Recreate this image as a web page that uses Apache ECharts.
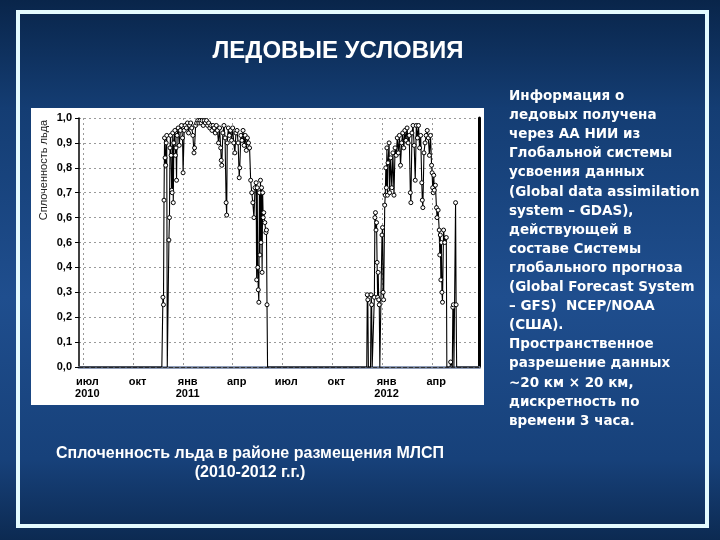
<!DOCTYPE html>
<html><head><meta charset="utf-8">
<script src="https://cdn.jsdelivr.net/npm/echarts@6/dist/echarts.min.js"></script>
<style>html,body{margin:0;padding:0;background:#0b2a52;}#c{width:720px;height:540px;}</style>
</head><body><div id="c"></div>
<script>
const titleText = 'ЛЕДОВЫЕ УСЛОВИЯ';
const yAxisTitle = 'Сплоченность льда';
const yTickLabels = ['0,0','0,1','0,2','0,3','0,4','0,6','0,6','0,7','0,8','0,9','1,0'];
const monthTicks = ['2010-07-01','2010-10-01','2011-01-01','2011-04-01','2011-07-01','2011-10-01','2012-01-01','2012-04-01'];
const monthLabels = ['июл\n2010','окт','янв\n2011','апр','июл','окт','янв\n2012','апр'];
const xRange = ['2010-06-23','2012-06-26'];

const season1Dates = ['2010-06-23','2010-08-15','2010-10-01','2010-11-22','2010-11-24','2010-11-25','2010-11-26','2010-11-27','2010-11-28','2010-11-29','2010-11-30','2010-12-01','2010-12-02','2010-12-04','2010-12-05','2010-12-06','2010-12-07','2010-12-08','2010-12-09','2010-12-10','2010-12-11','2010-12-12','2010-12-13','2010-12-14','2010-12-16','2010-12-17','2010-12-18','2010-12-19','2010-12-20','2010-12-22','2010-12-24','2010-12-26','2010-12-28','2010-12-30','2010-12-31','2011-01-02','2011-01-04','2011-01-06','2011-01-08','2011-01-10','2011-01-12','2011-01-14','2011-01-16','2011-01-18','2011-01-20','2011-01-21','2011-01-23','2011-01-25','2011-01-27','2011-01-29','2011-01-31','2011-02-02','2011-02-04','2011-02-06','2011-02-08','2011-02-10','2011-02-12','2011-02-14','2011-02-16','2011-02-18','2011-02-20','2011-02-22','2011-02-24','2011-02-26','2011-02-28','2011-03-02','2011-03-04','2011-03-06','2011-03-08','2011-03-10','2011-03-11','2011-03-12','2011-03-14','2011-03-16','2011-03-18','2011-03-20','2011-03-21','2011-03-22','2011-03-24','2011-03-26','2011-03-28','2011-03-30','2011-04-01','2011-04-03','2011-04-05','2011-04-07','2011-04-09','2011-04-11','2011-04-13','2011-04-14','2011-04-16','2011-04-18','2011-04-20','2011-04-22','2011-04-24','2011-04-26','2011-04-28','2011-04-30','2011-05-02','2011-05-04','2011-05-06','2011-05-08','2011-05-10','2011-05-12','2011-05-14','2011-05-15','2011-05-16','2011-05-17','2011-05-18','2011-05-19','2011-05-20','2011-05-21','2011-05-22','2011-05-23','2011-05-24','2011-05-25','2011-05-26','2011-05-27','2011-05-28','2011-05-30','2011-06-01','2011-06-02','2011-06-03','2011-06-04','2011-07-15','2011-09-01','2011-10-15'];
const season1Ice = [0,0,0,0,0.28,0.25,0.67,0.92,0.84,0.81,0.90,0.93,0.00,0.00,0.51,0.60,0.88,0.93,0.85,0.71,0.70,0.94,0.66,0.90,0.95,0.85,0.88,0.75,0.93,0.96,0.89,0.95,0.97,0.92,0.78,0.95,0.97,0.96,0.98,0.94,0.97,0.98,0.96,0.93,0.86,0.88,0.97,0.98,0.99,0.98,0.99,0.98,0.99,0.97,0.99,0.98,0.99,0.97,0.98,0.96,0.97,0.95,0.97,0.96,0.94,0.97,0.95,0.90,0.96,0.88,0.83,0.81,0.94,0.97,0.92,0.66,0.61,0.90,0.96,0.93,0.95,0.91,0.96,0.90,0.86,0.94,0.95,0.90,0.76,0.80,0.93,0.91,0.95,0.89,0.93,0.87,0.92,0.90,0.88,0.75,0.70,0.66,0.60,0.72,0.74,0.35,0.72,0.40,0.31,0.26,0.70,0.45,0.75,0.50,0.72,0.38,0.70,0.60,0.62,0.58,0.54,0.55,0.25,0.00,0,0,0];

const season2Dates = ['2011-11-25','2011-12-03','2011-12-04','2011-12-05','2011-12-06','2011-12-10','2011-12-11','2011-12-12','2011-12-13','2011-12-16','2011-12-17','2011-12-18','2011-12-19','2011-12-20','2011-12-21','2011-12-22','2011-12-23','2011-12-24','2011-12-25','2011-12-26','2011-12-27','2011-12-30','2011-12-31','2012-01-01','2012-01-02','2012-01-03','2012-01-05','2012-01-06','2012-01-07','2012-01-08','2012-01-09','2012-01-10','2012-01-11','2012-01-13','2012-01-14','2012-01-16','2012-01-18','2012-01-20','2012-01-22','2012-01-24','2012-01-26','2012-01-28','2012-01-30','2012-02-01','2012-02-03','2012-02-05','2012-02-07','2012-02-09','2012-02-11','2012-02-13','2012-02-15','2012-02-17','2012-02-19','2012-02-21','2012-02-22','2012-02-24','2012-02-26','2012-02-28','2012-03-01','2012-03-03','2012-03-05','2012-03-07','2012-03-09','2012-03-11','2012-03-13','2012-03-14','2012-03-15','2012-03-17','2012-03-19','2012-03-21','2012-03-23','2012-03-25','2012-03-27','2012-03-29','2012-03-31','2012-04-01','2012-04-02','2012-04-03','2012-04-04','2012-04-05','2012-04-07','2012-04-09','2012-04-10','2012-04-12','2012-04-14','2012-04-15','2012-04-16','2012-04-17','2012-04-18','2012-04-19','2012-04-20','2012-04-22','2012-04-24','2012-04-27','2012-04-28','2012-05-04','2012-05-05','2012-05-08','2012-05-09','2012-05-10','2012-05-11','2012-05-13','2012-05-14','2012-05-15','2012-05-16','2012-06-26'];
const season2Ice = [0,0,0.29,0.27,0,0,0.29,0.25,0,0,0.28,0.60,0.62,0.55,0.58,0.42,0.28,0.38,0.27,0.25,0,0,0.53,0.56,0.30,0.27,0.65,0.69,0.80,0.72,0.88,0.69,0.82,0.90,0.70,0.84,0.72,0.86,0.69,0.88,0.85,0.92,0.86,0.93,0.81,0.90,0.94,0.88,0.95,0.91,0.96,0.90,0.93,0.70,0.66,0.94,0.97,0.89,0.75,0.97,0.92,0.97,0.88,0.93,0.74,0.67,0.64,0.86,0.90,0.93,0.95,0.92,0.85,0.93,0.81,0.78,0.72,0.70,0.77,0.71,0.73,0.64,0.60,0.63,0.55,0.45,0.53,0.35,0.50,0.30,0.26,0.55,0.50,0.52,0,0,0.02,0,0.24,0.25,0,0,0.66,0.25,0,0];

const sideLines = ['Информация о','ледовых получена','через АА НИИ из','Глобальной системы','усвоения данных','(Global data assimilation','system – GDAS),','действующей в','составе Системы','глобального прогноза','(Global Forecast System','– GFS)  NCEP/NOAA','(США).','Пространственное','разрешение данных','~20 км × 20 км,','дискретность по','времени 3 часа.'];
const captionLines = ['Сплоченность льда в районе размещения МЛСП','(2010-2012 г.г.)'];

function toTs(s) { const p = s.split('-'); return Date.UTC(+p[0], +p[1] - 1, +p[2]); }

const seriesData = [];
function pushPoint(d, v) {
  const item = {value: [toTs(d), v]};
  if (v === 0) item.symbol = 'none';
  seriesData.push(item);
}
season1Dates.forEach((d, i) => pushPoint(d, season1Ice[i]));
season2Dates.forEach((d, i) => pushPoint(d, season2Ice[i]));

const tickTs = monthTicks.map(toTs);
const labelMap = {};
tickTs.forEach((t, i) => { labelMap[t] = monthLabels[i]; });
const xMin = toTs(xRange[0]), xMax = toTs(xRange[1]);

const chart = echarts.init(document.getElementById('c'), null, {renderer: 'canvas'});
const FONT = "'Liberation Sans', Arial, sans-serif";
chart.setOption({
  animation: false,
  backgroundColor: {
    type: 'linear', x: 0, y: 0, x2: 0, y2: 1,
    colorStops: [
      {offset: 0, color: '#09254a'},
      {offset: 0.2, color: '#143d73'},
      {offset: 0.55, color: '#1f4e8e'},
      {offset: 0.85, color: '#17417a'},
      {offset: 1, color: '#0c2a52'}
    ]
  },
  grid: {left: 79, right: 241, top: 118, bottom: 173, containLabel: false},
  graphic: [
    {type: 'rect', z: -5, shape: {x: 31, y: 108, width: 453, height: 297}, style: {fill: '#ffffff'}},
    {type: 'rect', z: -4, shape: {x: 18, y: 12, width: 689, height: 514}, style: {fill: 'none', stroke: '#e4fbff', lineWidth: 4}},
    {type: 'text', x: 338, y: 51, style: {text: titleText, fill: '#ffffff', font: "bold 24px 'Liberation Sans', Arial, sans-serif", textAlign: 'center', textVerticalAlign: 'middle'}},
    {type: 'text', x: 44, y: 170, rotation: Math.PI / 2, style: {text: yAxisTitle, fill: '#222222', font: "11px 'Liberation Sans', Arial, sans-serif", textAlign: 'center', textVerticalAlign: 'middle'}},
    {type: 'text', x: 509, y: 87, style: {text: sideLines.join('\n'), fill: '#ffffff', font: "bold 13.5px 'DejaVu Sans', sans-serif", lineHeight: 19.1, textAlign: 'left', textVerticalAlign: 'top'}},
    {type: 'text', x: 250, y: 444, style: {text: captionLines.join('\n'), fill: '#ffffff', font: "bold 16px 'Liberation Sans', Arial, sans-serif", lineHeight: 19, textAlign: 'center', textVerticalAlign: 'top'}}
  ],
  xAxis: [
    {
      type: 'value', min: xMin, max: xMax,
      axisLine: {show: true, onZero: false, lineStyle: {color: '#8e9cb8', width: 3}},
      axisTick: {show: false, customValues: tickTs},
      axisLabel: {
        customValues: tickTs,
        formatter: function (value) { return labelMap[value] || ''; },
        color: '#000', fontWeight: 'bold', fontSize: 11, fontFamily: FONT,
        lineHeight: 12, margin: 9, padding: [0, 0, 0, 8], hideOverlap: false
      },
      splitLine: {show: true, lineStyle: {color: '#9a9a9a', type: [2, 3], width: 1}}
    },
    {
      type: 'value', min: xMin, max: xMax, position: 'top',
      axisLine: {show: true, lineStyle: {color: '#333333', width: 1, type: [4, 2]}},
      axisTick: {show: false}, axisLabel: {show: false}, splitLine: {show: false}
    }
  ],
  yAxis: [
    {
      type: 'value', min: 0, max: 1, interval: 0.1,
      axisLine: {show: true, lineStyle: {color: '#000', width: 1.5}},
      axisTick: {show: true, length: 4, lineStyle: {color: '#000'}},
      axisLabel: {
        formatter: function (v) { return yTickLabels[Math.round(v * 10)]; },
        color: '#000', fontWeight: 'bold', fontSize: 11, fontFamily: FONT, margin: 7
      },
      splitLine: {show: true, lineStyle: {color: '#9a9a9a', type: [2, 3], width: 1}}
    },
    {
      type: 'value', min: 0, max: 1, position: 'right',
      axisLine: {show: true, lineStyle: {color: '#000', width: 3}},
      axisTick: {show: false}, axisLabel: {show: false}, splitLine: {show: false}
    }
  ],
  series: [{
    type: 'line',
    xAxisIndex: 0, yAxisIndex: 0,
    data: seriesData,
    symbol: 'circle', symbolSize: 4,
    showSymbol: true, showAllSymbol: true,
    itemStyle: {color: '#ffffff', borderColor: '#000000', borderWidth: 1},
    lineStyle: {color: '#000000', width: 1.1},
    emphasis: {disabled: true}
  }]
});
</script>
</body></html>
